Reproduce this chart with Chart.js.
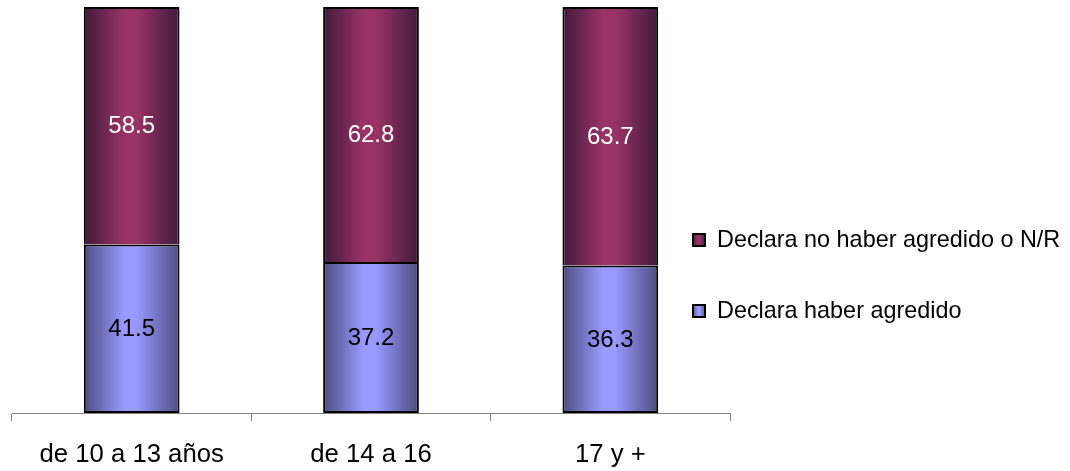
<!DOCTYPE html>
<html>
<head>
<meta charset="utf-8">
<script src="https://cdn.jsdelivr.net/npm/chart.js@4"></script>
<style>
  html, body { margin: 0; padding: 0; background: #fff; }
  #wrap { width: 1070px; height: 471px; }
</style>
</head>
<body>
<div id="wrap"><canvas id="grupoChart"></canvas></div>
<script>
// age groups and percentages
const categories = ['de 10 a 13 años', 'de 14 a 16', '17 y +'];
const seriesNames = ['Declara haber agredido', 'Declara no haber agredido o N/R'];
const agredido = [41.5, 37.2, 36.3];
const noAgredido = [58.5, 62.8, 63.7];

// [edge, centre] colours of the cylinder-like gradient
const blueShades = ['#4d4d80', '#9999ff'];
const maroonShades = ['#3f1a38', '#993366'];
const labelColors = ['#000000', '#ffffff'];

const FONT = 'Arial, "Liberation Sans", sans-serif';

function makeGradient(c, x0, x1, shades) {
  const g = c.createLinearGradient(x0, 0, x1, 0);
  g.addColorStop(0, shades[0]);
  g.addColorStop(0.42, shades[1]);
  g.addColorStop(0.55, shades[1]);
  g.addColorStop(1, shades[0]);
  return g;
}

// horizontal gradient across each bar, light just left of centre
function barGradient(shades) {
  return function (ctx) {
    const chart = ctx.chart;
    const xs = chart.scales.x;
    if (!xs || !chart.chartArea || ctx.dataIndex === undefined) return shades[1];
    const cx = xs.getPixelForValue(ctx.dataIndex);
    const half = (xs.width / categories.length) * 0.4 / 2;
    return makeGradient(chart.ctx, cx - half, cx + half, shades);
  };
}

// writes the value in the middle of every segment
const valueLabels = {
  id: 'valueLabels',
  afterDatasetsDraw(chart) {
    const c = chart.ctx;
    c.save();
    c.font = '24px ' + FONT;
    c.textAlign = 'center';
    c.textBaseline = 'middle';
    chart.data.datasets.forEach((ds, i) => {
      chart.getDatasetMeta(i).data.forEach((bar, j) => {
        c.fillStyle = labelColors[i];
        c.fillText(ds.data[j].toFixed(1), bar.x, (bar.y + bar.base) / 2 + 1);
      });
    });
    c.restore();
  }
};

// legend to the right, top series first
const sideLegend = {
  id: 'sideLegend',
  afterDraw(chart) {
    const c = chart.ctx;
    const area = chart.chartArea;
    const x = area.right - 38;
    const rows = [area.top + 233, area.top + 304];
    c.save();
    c.font = '23.4px ' + FONT;
    c.textBaseline = 'middle';
    [1, 0].forEach((dsIndex, k) => {
      const ds = chart.data.datasets[dsIndex];
      const y = rows[k];
      c.fillStyle = makeGradient(c, x, x + 14, ds.shades);
      c.fillRect(x, y - 7, 14, 14);
      c.strokeStyle = '#000';
      c.lineWidth = 2;
      c.strokeRect(x + 1, y - 6, 12, 12);
      c.fillStyle = '#000';
      c.fillText(ds.label, x + 25, y + 1);
    });
    c.restore();
  }
};

new Chart(document.getElementById('grupoChart'), {
  type: 'bar',
  data: {
    labels: categories,
    datasets: [
      {
        label: seriesNames[0],
        data: agredido,
        shades: blueShades,
        backgroundColor: barGradient(blueShades),
        borderColor: '#000',
        borderWidth: { top: 2, right: 2, bottom: 2, left: 2 },
        borderSkipped: false,
        barPercentage: 0.4,
        categoryPercentage: 1
      },
      {
        label: seriesNames[1],
        data: noAgredido,
        shades: maroonShades,
        backgroundColor: barGradient(maroonShades),
        borderColor: '#000',
        borderWidth: { top: 2, right: 2, bottom: 0, left: 2 },
        borderSkipped: false,
        barPercentage: 0.4,
        categoryPercentage: 1
      }
    ]
  },
  options: {
    responsive: true,
    maintainAspectRatio: false,
    animation: false,
    layout: { padding: { left: 12, right: 340, top: 7, bottom: 0 } },
    plugins: {
      legend: { display: false },
      tooltip: { enabled: false }
    },
    scales: {
      x: {
        stacked: true,
        afterFit(scale) { scale.height = 58; },
        border: { color: '#808080', width: 1 },
        grid: { offset: true, drawOnChartArea: false, color: '#808080', tickLength: 8 },
        ticks: { color: '#000', font: { size: 25.7, family: FONT }, padding: 18 }
      },
      y: {
        stacked: true,
        display: false,
        min: 0,
        max: 100
      }
    }
  },
  plugins: [valueLabels, sideLegend]
});
</script>
</body>
</html>
